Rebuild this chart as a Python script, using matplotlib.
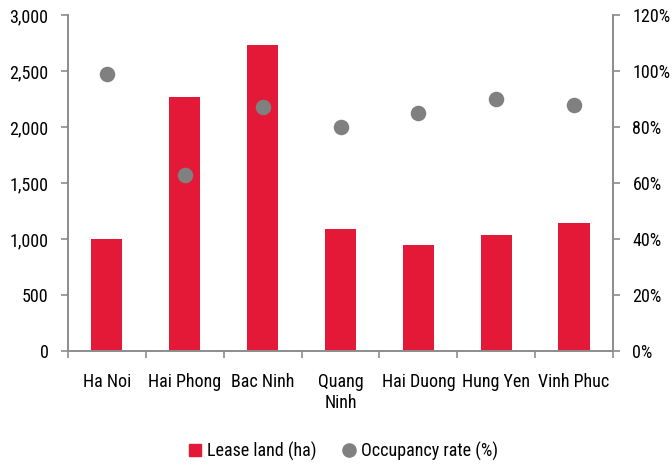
import matplotlib
matplotlib.use("Agg")
import matplotlib.pyplot as plt
from matplotlib.ticker import FuncFormatter
from matplotlib.lines import Line2D

categories = ["Ha Noi", "Hai Phong", "Bac Ninh", "Quang\nNinh", "Hai Duong", "Hung Yen", "Vinh Phuc"]
lease_land = [1000, 2265, 2729, 1087, 946, 1036, 1143]
occupancy = [99, 63, 87, 80, 85, 90, 88]
legend_labels = ["Lease land (ha)", "Occupancy rate (%)"]

plt.rcParams["font.family"] = ["Roboto Condensed", "Archivo Narrow", "Liberation Sans", "DejaVu Sans"]
plt.rcParams["font.size"] = 13

RED = "#E31937"
GREY = "#808080"
SPINE = "#8C8C8C"

fig = plt.figure(figsize=(6.72, 4.68), dpi=100)
ax = fig.add_axes([68/672, 1-351/468, (613-68)/672, (351-15)/468])
ax2 = ax.twinx()

x = list(range(len(categories)))
ax.bar(x, lease_land, width=0.4, color=RED, zorder=2)
ax2.scatter(x, occupancy, s=125, color=GREY, zorder=3, linewidths=0)

ax.set_xlim(-0.5, len(categories) - 0.5)
ax.set_ylim(0, 3000)
ax2.set_ylim(0, 120)
ax.set_yticks(range(0, 3001, 500))
ax.yaxis.set_major_formatter(FuncFormatter(lambda v, p: f"{int(v):,}"))
ax2.set_yticks(range(0, 121, 20))
ax2.yaxis.set_major_formatter(FuncFormatter(lambda v, p: f"{int(v)}%"))

ax.set_xticks(x)
ax.set_xticklabels(categories, linespacing=1.2)
ax.tick_params(axis="x", which="major", length=0, pad=16)
ax.set_xticks([i - 0.5 for i in range(len(categories) + 1)], minor=True)
ax.tick_params(axis="x", which="minor", length=5, color=SPINE, width=1.2)

for a in (ax, ax2):
    a.spines["top"].set_visible(False)
    for s in ("left", "right", "bottom"):
        a.spines[s].set_color(SPINE)
        a.spines[s].set_linewidth(1.2)
ax.tick_params(axis="y", length=5, color=SPINE, width=1.2, pad=9)
ax2.tick_params(axis="y", length=5, color=SPINE, width=1.2, pad=9)

handles = [
    Line2D([], [], marker="s", color=RED, linestyle="none", markersize=8),
    Line2D([], [], marker="o", color=GREY, linestyle="none", markersize=9.5),
]
fig.legend(handles, legend_labels, loc="center", bbox_to_anchor=(343/672, 1-451/468),
           ncol=2, frameon=False, handletextpad=0.25, columnspacing=1.4, handlelength=0.8)

fig.savefig("out.png", dpi=100)
